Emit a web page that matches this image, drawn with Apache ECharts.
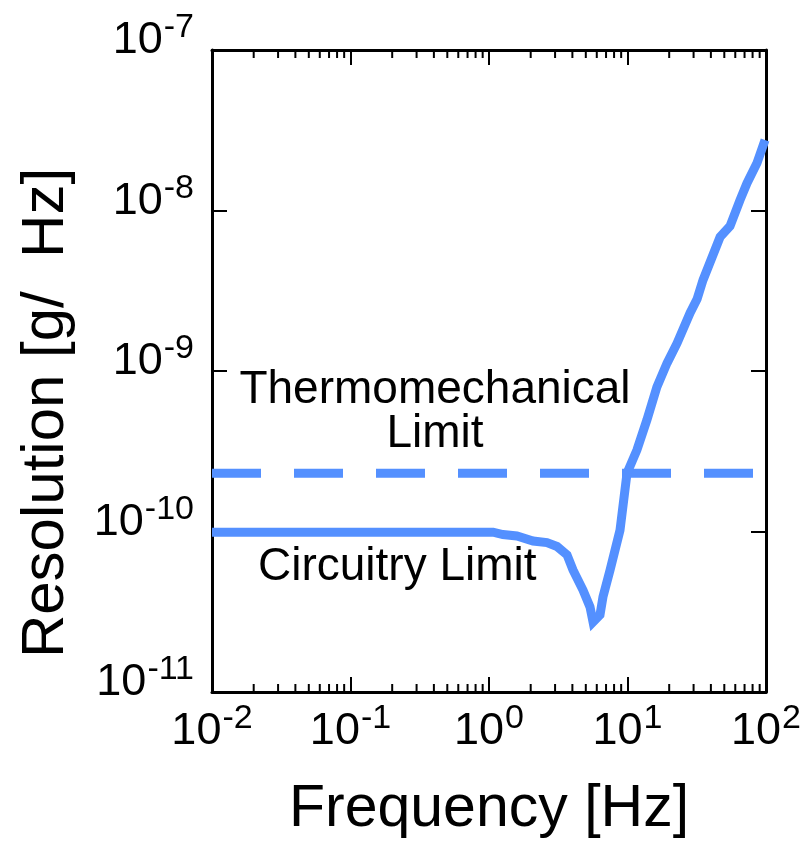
<!DOCTYPE html>
<html>
<head>
<meta charset="utf-8">
<script src="https://cdn.jsdelivr.net/npm/echarts@6/dist/echarts.min.js"></script>
<style>html,body{margin:0;padding:0;background:#fff;}#c{width:807px;height:841px;}</style>
</head>
<body>
<div id="c"></div>
<script>
// ---- data ----
const circuitFreq = [0.01, 0.03, 0.1, 0.3, 1.0, 1.07, 1.26, 1.59, 2.08, 2.62, 3.10, 3.66, 4.04, 4.77, 5.36, 5.64, 6.33, 6.65, 7.48, 8.83, 9.92, 11.7, 13.8, 16.3, 19.3, 22.8, 28.3, 31.8, 35.1, 46.6, 55.0, 64.9, 72.9, 86.1, 98.4];
const circuitRes  = [9.9e-11, 9.9e-11, 9.9e-11, 9.9e-11, 9.9e-11, 9.9e-11, 9.57e-11, 9.37e-11, 8.73e-11, 8.53e-11, 8.07e-11, 7.15e-11, 5.76e-11, 4.32e-11, 3.39e-11, 2.73e-11, 3.02e-11, 3.91e-11, 5.75e-11, 1.02e-10, 2.31e-10, 3.22e-10, 4.95e-10, 7.95e-10, 1.12e-9, 1.49e-9, 2.30e-9, 2.81e-9, 3.69e-9, 6.84e-9, 8.0e-9, 1.16e-8, 1.48e-8, 1.98e-8, 2.75e-8];
const thermoFreq = [0.01, 100];
const thermoRes  = [2.31e-10, 2.31e-10];
const xTickValues = [0.01, 0.1, 1, 10, 100];
const yTickValues = [1e-11, 1e-10, 1e-9, 1e-8, 1e-7];
const xTitle = 'Frequency [Hz]';
const yTitle = 'Resolution [g/  Hz]';
const thermoLabel = 'Thermomechanical\nLimit';
const circuitLabel = 'Circuitry Limit';

const FONT = 'Liberation Sans, Arial, sans-serif';
const BLUE = '#5490ff';

function minorsOf(ticks) {
  const out = [];
  for (let i = 0; i < ticks.length - 1; i++) {
    for (let m = 2; m <= 9; m++) out.push(ticks[i] * m);
  }
  return out;
}
const xMinor = minorsOf(xTickValues);
const yMinor = minorsOf(yTickValues);

function expLabel(v) {
  const e = Math.round(Math.log10(v));
  return '{b|10}{s|' + e + '}';
}
const richLabel = {
  b: { fontSize: 45, fontFamily: FONT, color: '#000', lineHeight: 60 },
  s: { fontSize: 34, fontFamily: FONT, color: '#000', lineHeight: 24, verticalAlign: 'top', padding: [0, 0, 0, 1] }
};

const chart = echarts.init(document.getElementById('c'), null, { renderer: 'canvas' });

const baseX = {
  type: 'log', logBase: 10, min: xTickValues[0], max: xTickValues[xTickValues.length - 1],
  splitLine: { show: false },
  axisLine: { show: true, lineStyle: { color: '#000', width: 3 } },
  axisTick: { show: true, inside: true, length: 15, lineStyle: { color: '#000', width: 2 } },
  minorTick: { show: false }
};
const baseY = {
  type: 'log', logBase: 10, min: yTickValues[0], max: yTickValues[yTickValues.length - 1],
  splitLine: { show: false },
  axisLine: { show: true, lineStyle: { color: '#000', width: 3 } },
  axisTick: { show: true, inside: true, length: 15, lineStyle: { color: '#000', width: 2 } },
  minorTick: { show: false }
};

function minorRender(dir) {
  return function (params, api) {
    const cs = params.coordSys;
    const v = api.value(0);
    const L = 8;
    const st = { stroke: '#000', lineWidth: 2 };
    if (dir === 'x') {
      const p = api.coord([v, yTickValues[0]]);
      const x = p[0];
      return { type: 'group', children: [
        { type: 'line', shape: { x1: x, y1: cs.y + cs.height, x2: x, y2: cs.y + cs.height - L }, style: st },
        { type: 'line', shape: { x1: x, y1: cs.y, x2: x, y2: cs.y + L }, style: st }
      ]};
    } else {
      const p = api.coord([xTickValues[0], v]);
      const y = p[1];
      return { type: 'group', children: [
        { type: 'line', shape: { x1: cs.x, y1: y, x2: cs.x + L, y2: y }, style: st },
        { type: 'line', shape: { x1: cs.x + cs.width, y1: y, x2: cs.x + cs.width - L, y2: y }, style: st }
      ]};
    }
  };
}

const option = {
  backgroundColor: '#fff',
  animation: false,
  grid: { left: 212, right: 41, top: 50, bottom: 149, containLabel: false, outerBoundsMode: 'none' },
  xAxis: [
    Object.assign({}, baseX, {
      position: 'bottom',
      name: xTitle, nameLocation: 'middle', nameGap: 88,
      nameTextStyle: { fontSize: 59, fontFamily: FONT, color: '#000' },
      axisLabel: { show: true, margin: 10, formatter: expLabel, rich: richLabel, showMinLabel: true, showMaxLabel: true }
    }),
    Object.assign({}, baseX, { position: 'top', axisLabel: { show: false } })
  ],
  yAxis: [
    Object.assign({}, baseY, {
      position: 'left',
      axisLabel: { show: true, margin: 18, formatter: expLabel, rich: richLabel, padding: [0, 0, 18, 0], showMinLabel: true, showMaxLabel: true }
    }),
    Object.assign({}, baseY, { position: 'right', axisLabel: { show: false } })
  ],
  series: [
    {
      name: 'Thermomechanical Limit', type: 'line', xAxisIndex: 0, yAxisIndex: 0,
      data: thermoFreq.map((f, i) => [f, thermoRes[i]]),
      showSymbol: false, symbol: 'none', silent: true,
      lineStyle: { color: BLUE, width: 9, type: [49, 33] }
    },
    {
      name: 'Circuitry Limit', type: 'line', xAxisIndex: 0, yAxisIndex: 0,
      data: circuitFreq.map((f, i) => [f, circuitRes[i]]),
      showSymbol: false, symbol: 'none', silent: true,
      lineStyle: { color: BLUE, width: 9, join: 'miter' }
    },
    {
      type: 'custom', xAxisIndex: 0, yAxisIndex: 0, silent: true, clip: false,
      data: xMinor.map(v => [v, yTickValues[0]]),
      renderItem: minorRender('x')
    },
    {
      type: 'custom', xAxisIndex: 0, yAxisIndex: 0, silent: true, clip: false,
      data: yMinor.map(v => [xTickValues[0], v]),
      renderItem: minorRender('y')
    }
  ],
  graphic: [
    { type: 'text', x: 46, y: 413, rotation: Math.PI / 2, style: { text: yTitle, font: '60px ' + FONT, fill: '#000', textAlign: 'center', textVerticalAlign: 'middle' }, z: 10 },
    { type: 'text', x: 435, y: 368, style: { text: thermoLabel, font: '46px ' + FONT, fill: '#000', textAlign: 'center', textVerticalAlign: 'top', lineHeight: 44 }, z: 10 },
    { type: 'text', left: 258, top: 544, style: { text: circuitLabel, font: '46px ' + FONT, fill: '#000' }, z: 10 }
  ]
};
chart.setOption(option);
</script>
</body>
</html>
